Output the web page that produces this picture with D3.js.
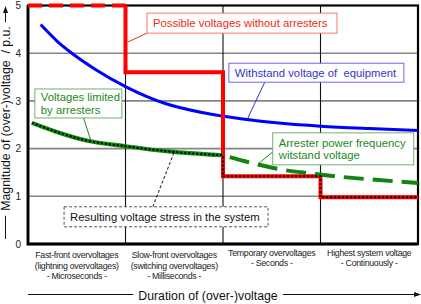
<!DOCTYPE html>
<html>
<head>
<meta charset="utf-8">
<script src="https://cdn.jsdelivr.net/npm/d3@7"></script>
<style>
  body { margin: 0; background: #fff; }
  text { font-family: "Liberation Sans", Arial, sans-serif; white-space: pre; }
</style>
</head>
<body>
<script>
// ---- data (x in column units 0..4, y in p.u.) ----
var categories = [
  ["Fast-front overvoltages", "(lightning overvoltages)", "- Microseconds -"],
  ["Slow-front overvoltages", "(switching overvoltages)", "- Milliseconds -"],
  ["Temporary overvoltages", "- Seconds -"],
  ["Highest system voltage", "- Continuously -"]
];
var yTicks = [0, 1, 2, 3, 4, 5];

var withoutArresters = [[0, 5], [1, 5], [1, 3.6], [2, 3.6], [2, 1.42], [3, 1.42], [3, 0.98], [4, 0.98]];
var withstandEquipment = [[0.13, 4.6], [0.3, 4.25], [0.45, 4.0], [0.7, 3.65], [1.0, 3.3], [1.4, 2.95],
  [1.8, 2.75], [2.2, 2.62], [2.6, 2.53], [3.0, 2.47], [3.5, 2.42], [4.0, 2.38]];
var limitedByArresters = [[0.04, 2.54], [0.28, 2.36], [0.6, 2.17], [1.0, 2.05], [1.5, 1.93], [2.0, 1.86]];
var arresterPowerFreq = [[2.0, 1.86], [2.35, 1.67], [2.6, 1.56], [2.9, 1.48], [3.2, 1.41], [3.6, 1.34], [4.0, 1.28]];
var resultingStress = limitedByArresters.concat([[2, 1.42], [3, 1.42], [3, 0.98], [4, 0.98]]);

var calloutTexts = [
  ["Possible voltages without arresters"],
  ["Withstand voltage of  equipment"],
  ["Voltages limited", "by arresters"],
  ["Arrester power frequency", "witstand voltage"],
  ["Resulting voltage stress in the system"]
];

// ---- layout ----
var W = 421, H = 304;
var x = d3.scaleLinear().domain([0, 4]).range([28, 418]);
var y = d3.scaleLinear().domain([0, 5]).range([244, 5.5]);
var xBand = d3.scaleBand().domain(d3.range(categories.length)).range([28, 418]);

var svg = d3.select("body").append("svg")
  .attr("width", W)
  .attr("height", H);

// gridlines
svg.append("g").selectAll("line")
  .data([1, 2, 3, 4])
  .enter().append("line")
  .attr("x1", x(0)).attr("x2", x(4))
  .attr("y1", function(d) { return y(d); })
  .attr("y2", function(d) { return y(d); })
  .attr("stroke", "#858585").attr("stroke-width", 1.6);

svg.append("g").selectAll("line")
  .data([1, 2, 3])
  .enter().append("line")
  .attr("y1", y(0)).attr("y2", y(5))
  .attr("x1", function(d) { return x(d); })
  .attr("x2", function(d) { return x(d); })
  .attr("stroke", "#111").attr("stroke-width", 1.1);

// frame
svg.append("rect")
  .attr("x", x(0)).attr("y", y(5))
  .attr("width", x(4) - x(0)).attr("height", y(0) - y(5))
  .attr("fill", "none").attr("stroke", "#000").attr("stroke-width", 2.2);
svg.append("path")
  .attr("d", "M" + x(0) + "," + y(5) + "V" + y(0) + "H" + x(4))
  .attr("fill", "none").attr("stroke", "#000").attr("stroke-width", 2.8);

// y axis tick labels
var yAxis = svg.append("g")
  .attr("transform", "translate(" + x(0) + ",0)")
  .call(d3.axisLeft(y).tickValues(yTicks).tickSize(0).tickPadding(7).tickFormat(d3.format("d")));
yAxis.select(".domain").remove();
yAxis.selectAll("text")
  .style("font-family", "'Liberation Sans', Arial, sans-serif")
  .style("font-size", "10px")
  .attr("fill", "#222");

var line = d3.line().x(function(d) { return x(d[0]); }).y(function(d) { return y(d[1]); });
var curve = d3.line().curve(d3.curveMonotoneX).x(function(d) { return x(d[0]); }).y(function(d) { return y(d[1]); });

// withstand voltage of equipment
svg.append("path")
  .attr("d", curve(withstandEquipment))
  .attr("fill", "none").attr("stroke", "#0000ff").attr("stroke-width", 3);

// possible voltages without arresters
svg.append("path")
  .attr("d", line(withoutArresters.slice(0, 2)))
  .attr("fill", "none").attr("stroke", "#ff0000").attr("stroke-width", 4)
  .attr("stroke-dasharray", "14,7");
svg.append("path")
  .attr("d", line(withoutArresters.slice(1)))
  .attr("fill", "none").attr("stroke", "#ff0000").attr("stroke-width", 4)
  .attr("stroke-linejoin", "miter");

// voltages limited by arresters
svg.append("path")
  .attr("d", curve(limitedByArresters))
  .attr("fill", "none").attr("stroke", "#0f8a0f").attr("stroke-width", 4.2);

// arrester power frequency withstand voltage
svg.append("path")
  .attr("d", curve(arresterPowerFreq))
  .attr("fill", "none").attr("stroke", "#118411").attr("stroke-width", 4)
  .attr("stroke-dasharray", "20,9").attr("stroke-dashoffset", -7);

// resulting voltage stress (black dotted)
svg.append("path")
  .attr("d", curve(limitedByArresters) + line(resultingStress.slice(limitedByArresters.length - 1)).replace("M", "L"))
  .attr("fill", "none").attr("stroke", "#000").attr("stroke-width", 2)
  .attr("stroke-dasharray", "2,2");

// ---- callouts ----
var calloutLayout = [
  {bx: 1.22, by: 4.84, w: 190, h: 20, from: [1.22, 4.42], to: [1.02, 4.23], text: "#f02a14", stroke: "#f27a7a", dash: null},
  {bx: 2.06, by: 3.79, w: 175, h: 19, from: [2.43, 3.40], to: [2.25, 2.62], text: "#3434c8", stroke: "#6a6ae0", dash: null},
  {bx: 0.07, by: 3.25, w: 87, h: 29, from: [0.57, 2.64], to: [0.64, 2.2], text: "#1c8a1c", stroke: "#72b072", dash: null},
  {bx: 2.51, by: 2.33, w: 141, h: 32, from: [2.51, 1.93], to: [2.36, 1.68], text: "#1c8a1c", stroke: "#72b072", dash: null},
  {bx: 0.37, by: 0.78, w: 204, h: 20, from: [1.28, 0.78], to: [1.5, 1.93], text: "#111", stroke: "#555", dash: "3,2"}
];

calloutLayout.forEach(function(c, i) {
  var g = svg.append("g");
  g.append("line")
    .attr("x1", x(c.from[0])).attr("y1", y(c.from[1]))
    .attr("x2", x(c.to[0])).attr("y2", y(c.to[1]))
    .attr("stroke", i === 4 ? "#111" : c.text).attr("stroke-width", 1)
    .attr("stroke-dasharray", c.dash);
  g.append("rect")
    .attr("x", x(c.bx)).attr("y", y(c.by))
    .attr("width", c.w).attr("height", c.h)
    .attr("fill", "#fff").attr("stroke", c.stroke).attr("stroke-width", 1)
    .attr("stroke-dasharray", c.dash);
  var lines = calloutTexts[i];
  g.selectAll("text")
    .data(lines)
    .enter().append("text")
    .attr("x", x(c.bx) + 6)
    .attr("y", function(d, j) { return y(c.by) + c.h / 2 + (j - (lines.length - 1) / 2) * 12.5; })
    .attr("dy", "0.36em")
    .attr("fill", c.text)
    .style("font-size", "11.3px")
    .text(function(d) { return d; });
});

// ---- x category labels ----
categories.forEach(function(lines, i) {
  svg.append("g").selectAll("text")
    .data(lines)
    .enter().append("text")
    .attr("x", xBand(i) + xBand.bandwidth() / 2)
    .attr("y", function(d, j) { return (i < 2 ? 258 : 255.5) + j * 10.5; })
    .attr("text-anchor", "middle")
    .attr("fill", "#222")
    .style("font-size", "8.8px")
    .style("letter-spacing", "-0.3px")
    .text(function(d) { return d; });
});

// ---- axis titles ----
var xt = svg.append("text")
  .attr("x", 208).attr("y", 299.5)
  .attr("text-anchor", "middle")
  .attr("fill", "#111")
  .style("font-size", "12.3px")
  .text("Duration of (over-)voltage");
var xb = xt.node().getBBox();
svg.append("line").attr("x1", 28).attr("x2", xb.x - 5).attr("y1", 294.5).attr("y2", 294.5)
  .attr("stroke", "#111").attr("stroke-width", 1);
svg.append("line").attr("x1", xb.x + xb.width + 5).attr("x2", 416).attr("y1", 294.5).attr("y2", 294.5)
  .attr("stroke", "#111").attr("stroke-width", 1);
svg.append("path").attr("d", "M421,294.5L414,292L414,297Z").attr("fill", "#111");

var yt = svg.append("text")
  .attr("transform", "translate(10,118.5) rotate(-90)")
  .attr("text-anchor", "middle")
  .attr("fill", "#111")
  .style("font-size", "12.3px")
  .text("Magnitude of (over-)voltage  / p.u.");
var yb = yt.node().getBBox();
svg.append("line").attr("x1", 5.5).attr("x2", 5.5).attr("y1", 118.5 - yb.width / 2 - 4).attr("y2", 12)
  .attr("stroke", "#111").attr("stroke-width", 1);
svg.append("path").attr("d", "M5.5,6L3,13L8,13Z").attr("fill", "#111");
svg.append("line").attr("x1", 5.5).attr("x2", 5.5).attr("y1", 118.5 + yb.width / 2 + 5).attr("y2", 239)
  .attr("stroke", "#111").attr("stroke-width", 1);
</script>
</body>
</html>
